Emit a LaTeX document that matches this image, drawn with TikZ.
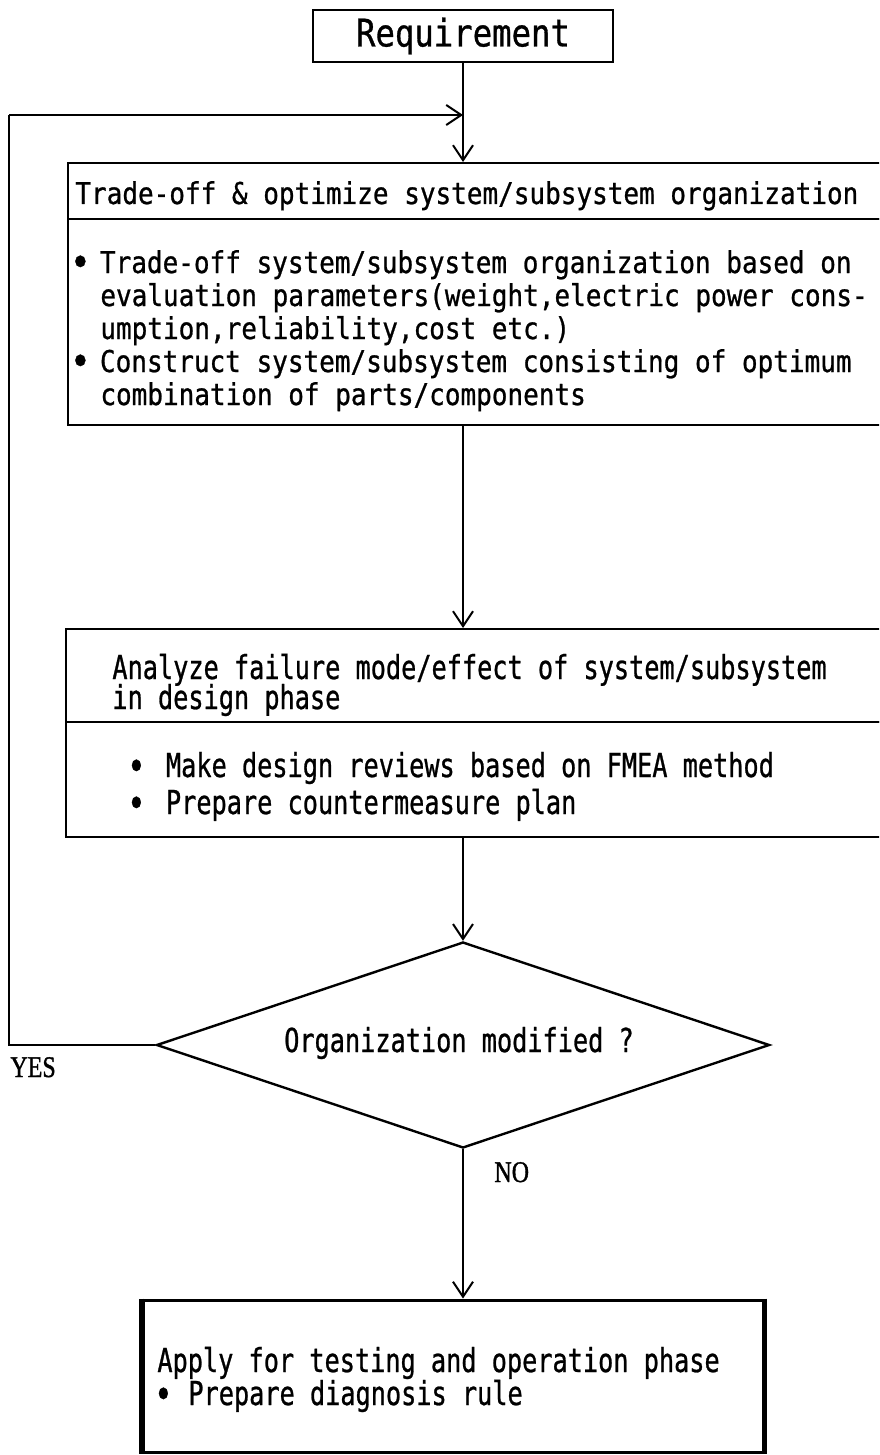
\documentclass[tikz,border=0pt]{standalone}
\usepackage{fontspec}
\usetikzlibrary{arrows.meta,fit,shapes.geometric}
\newfontfamily\flowfont{DejaVu Sans Mono}[FakeStretch=0.765,FakeBold=0.8]
\newfontfamily\wideflowfont{DejaVu Sans Mono}[FakeStretch=0.867,FakeBold=0.8]
\newfontfamily\reqfont{DejaVu Sans Mono}[FakeStretch=0.85,FakeBold=0.8]
\newfontfamily\labelfont{Liberation Serif}[FakeStretch=0.8,FakeBold=1.2]
% bullet in a fixed-width cell, a little larger than the text bullet
\newcommand\blt{\makebox[7.6pt][c]{\smash{\fontsize{20pt}{20pt}\selectfont\raisebox{-1.6pt}{•}}}}
\begin{document}
\begin{tikzpicture}[x=0.5pt,y=-0.5pt,
  box/.style={draw, line width=1pt, inner sep=0pt},
  finalbox/.style={draw, line width=1.5pt, inner sep=0pt},
  dec/.style={diamond, draw, line width=1.2pt, inner sep=0pt},
  txt/.style={anchor=base west, inner sep=0pt, text height=12pt, text depth=2.5pt,
              font=\flowfont\fontsize{16.5pt}{16.5pt}\selectfont},
  wtxt/.style={txt, text height=11pt, text depth=2.2pt,
               font=\wideflowfont\fontsize{15pt}{15pt}\selectfont},
  lab/.style={anchor=base west, inner sep=0pt, font=\labelfont\fontsize{15pt}{15pt}\selectfont},
  arr/.style={line width=1pt, -{Straight Barb[length=7.5pt,width=10pt,line width=1pt]}},
  line/.style={line width=1pt}]
\clip (0,0) rectangle (879,1455);
\fill[white] (0,0) rectangle (879,1455);

% start box
\node[box, minimum width=150pt, minimum height=26pt,
      font=\reqfont\fontsize{19pt}{19pt}\selectfont] (req) at (463,36) {Requirement};

% trade-off box: title strip and body
\node[box, fit={(68,163) (900,219)}] (b1t) {};
\node[box, fit={(68,219) (900,425)}] (b1b) {};
\node[wtxt] (t1) at (75,204) {Trade-off \& optimize system/subsystem organization};
\node[wtxt] (p1a) at (72.4,273) {\blt\hspace{6pt}Trade-off system/subsystem organization based on};
\node[wtxt] (p1b) at (100,306) {evaluation parameters(weight,electric power cons-};
\node[wtxt] (p1c) at (100,339) {umption,reliability,cost etc.)};
\node[wtxt] (p1d) at (72.4,372) {\blt\hspace{6pt}Construct system/subsystem consisting of optimum};
\node[wtxt] (p1e) at (100,405) {combination of parts/components};

% FMEA box
\node[box, fit={(66,629) (900,722)}] (b2t) {};
\node[box, fit={(66,722) (900,837)}] (b2b) {};
\node[txt] (t2a) at (112,679) {Analyze failure mode/effect of system/subsystem};
\node[txt] (t2b) at (112,709) {in design phase};
\node[txt] (p2a) at (128.4,777) {\blt\hspace{11pt}Make design reviews based on FMEA method};
\node[txt] (p2b) at (128.4,814) {\blt\hspace{11pt}Prepare countermeasure plan};

% decision
\node[dec, minimum width=306.5pt, minimum height=103pt] (dia) at (463,1045) {};
\node[txt, anchor=base] (q) at (459,1052) {Organization modified ?};
\node[lab] (yes) at (10,1077) {YES};
\node[lab] (no) at (494,1182) {NO};

% final box
\node[finalbox, fit={(143,1300) (763,1452)}] (b3) {};
\draw[line width=2.6pt] (b3.north west) -- (b3.south west);
\draw[line width=2.6pt] (b3.north east) -- (b3.south east);
\node[txt] (t3) at (157,1372) {Apply for testing and operation phase};
\node[txt] (p3) at (155.4,1405) {\blt\hspace{8.7pt}Prepare diagnosis rule};

% connectors
\coordinate (fb) at (9,115);
\draw[arr] (req.south) -- (req.south |- b1t.north);
\draw[arr] (b1b.south -| req.south) -- (b2t.north -| req.south);
\draw[arr] (b2b.south -| req.south) -- (dia.north);
\draw[line] (dia.west) -| (fb);
\draw[arr] (fb) -- (fb -| req.south);
\draw[arr] (dia.south) -- (dia.south |- b3.north);
\end{tikzpicture}
\end{document}
